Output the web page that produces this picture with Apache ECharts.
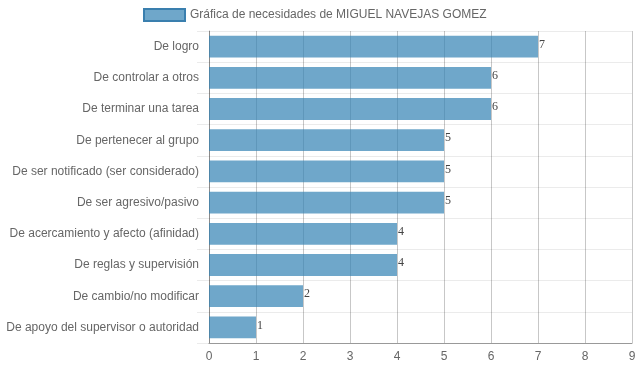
<!DOCTYPE html>
<html><head><meta charset="utf-8">
<script src="https://cdn.jsdelivr.net/npm/echarts@6/dist/echarts.min.js"></script>
<style>html,body{margin:0;padding:0;background:#fff}#c{width:639px;height:372px}</style>
</head><body><div id="c"></div>
<script>
const categories = ["De logro","De controlar a otros","De terminar una tarea","De pertenecer al grupo","De ser notificado (ser considerado)","De ser agresivo/pasivo","De acercamiento y afecto (afinidad)","De reglas y supervisión","De cambio/no modificar","De apoyo del supervisor o autoridad"];
const values = [7,6,6,5,5,5,4,4,2,1];
const seriesName = "Gráfica de necesidades de MIGUEL NAVEJAS GOMEZ";
const xTicks = [0,9,1];

const chart = echarts.init(document.getElementById('c'));
chart.setOption({
  animation:false,
  legend:{top:3,left:138,itemWidth:41,itemHeight:12,itemGap:5,
    textStyle:{fontFamily:'Liberation Sans, Arial',fontSize:12,color:'#666'},
    data:[{name:seriesName,icon:'rect',itemStyle:{color:'rgba(50,130,180,0.7)',borderColor:'#3a7fae',borderWidth:2}}]},
  grid:{left:209,right:7,top:31,bottom:29,containLabel:false},
  xAxis:{type:'value',min:xTicks[0],max:xTicks[1],interval:xTicks[2],
    axisLine:{show:true,lineStyle:{color:'#999'}},
    axisTick:{show:false},
    axisLabel:{fontFamily:'Liberation Sans, Arial',fontSize:12,color:'#666',margin:8},
    splitLine:{show:true,lineStyle:{color:'rgba(0,0,0,0.22)'}}},
  yAxis:{type:'category',data:categories,inverse:true,
    axisLine:{show:true,lineStyle:{color:'rgba(0,0,0,0.3)'}},
    axisTick:{show:true,length:12,lineStyle:{color:'rgba(0,0,0,0.08)'}},
    axisLabel:{fontFamily:'Liberation Sans, Arial',fontSize:12,color:'#666',margin:10},
    splitLine:{show:true,lineStyle:{color:'rgba(0,0,0,0.08)'}}},
  series:[{name:seriesName,type:'bar',data:values,barCategoryGap:'30%',
    itemStyle:{color:'rgba(50,130,180,0.7)'},
    label:{show:true,position:'right',distance:1,offset:[0,-2],fontFamily:'Liberation Serif, Times New Roman',fontSize:12,color:'#444'}}]
});
</script></body></html>
